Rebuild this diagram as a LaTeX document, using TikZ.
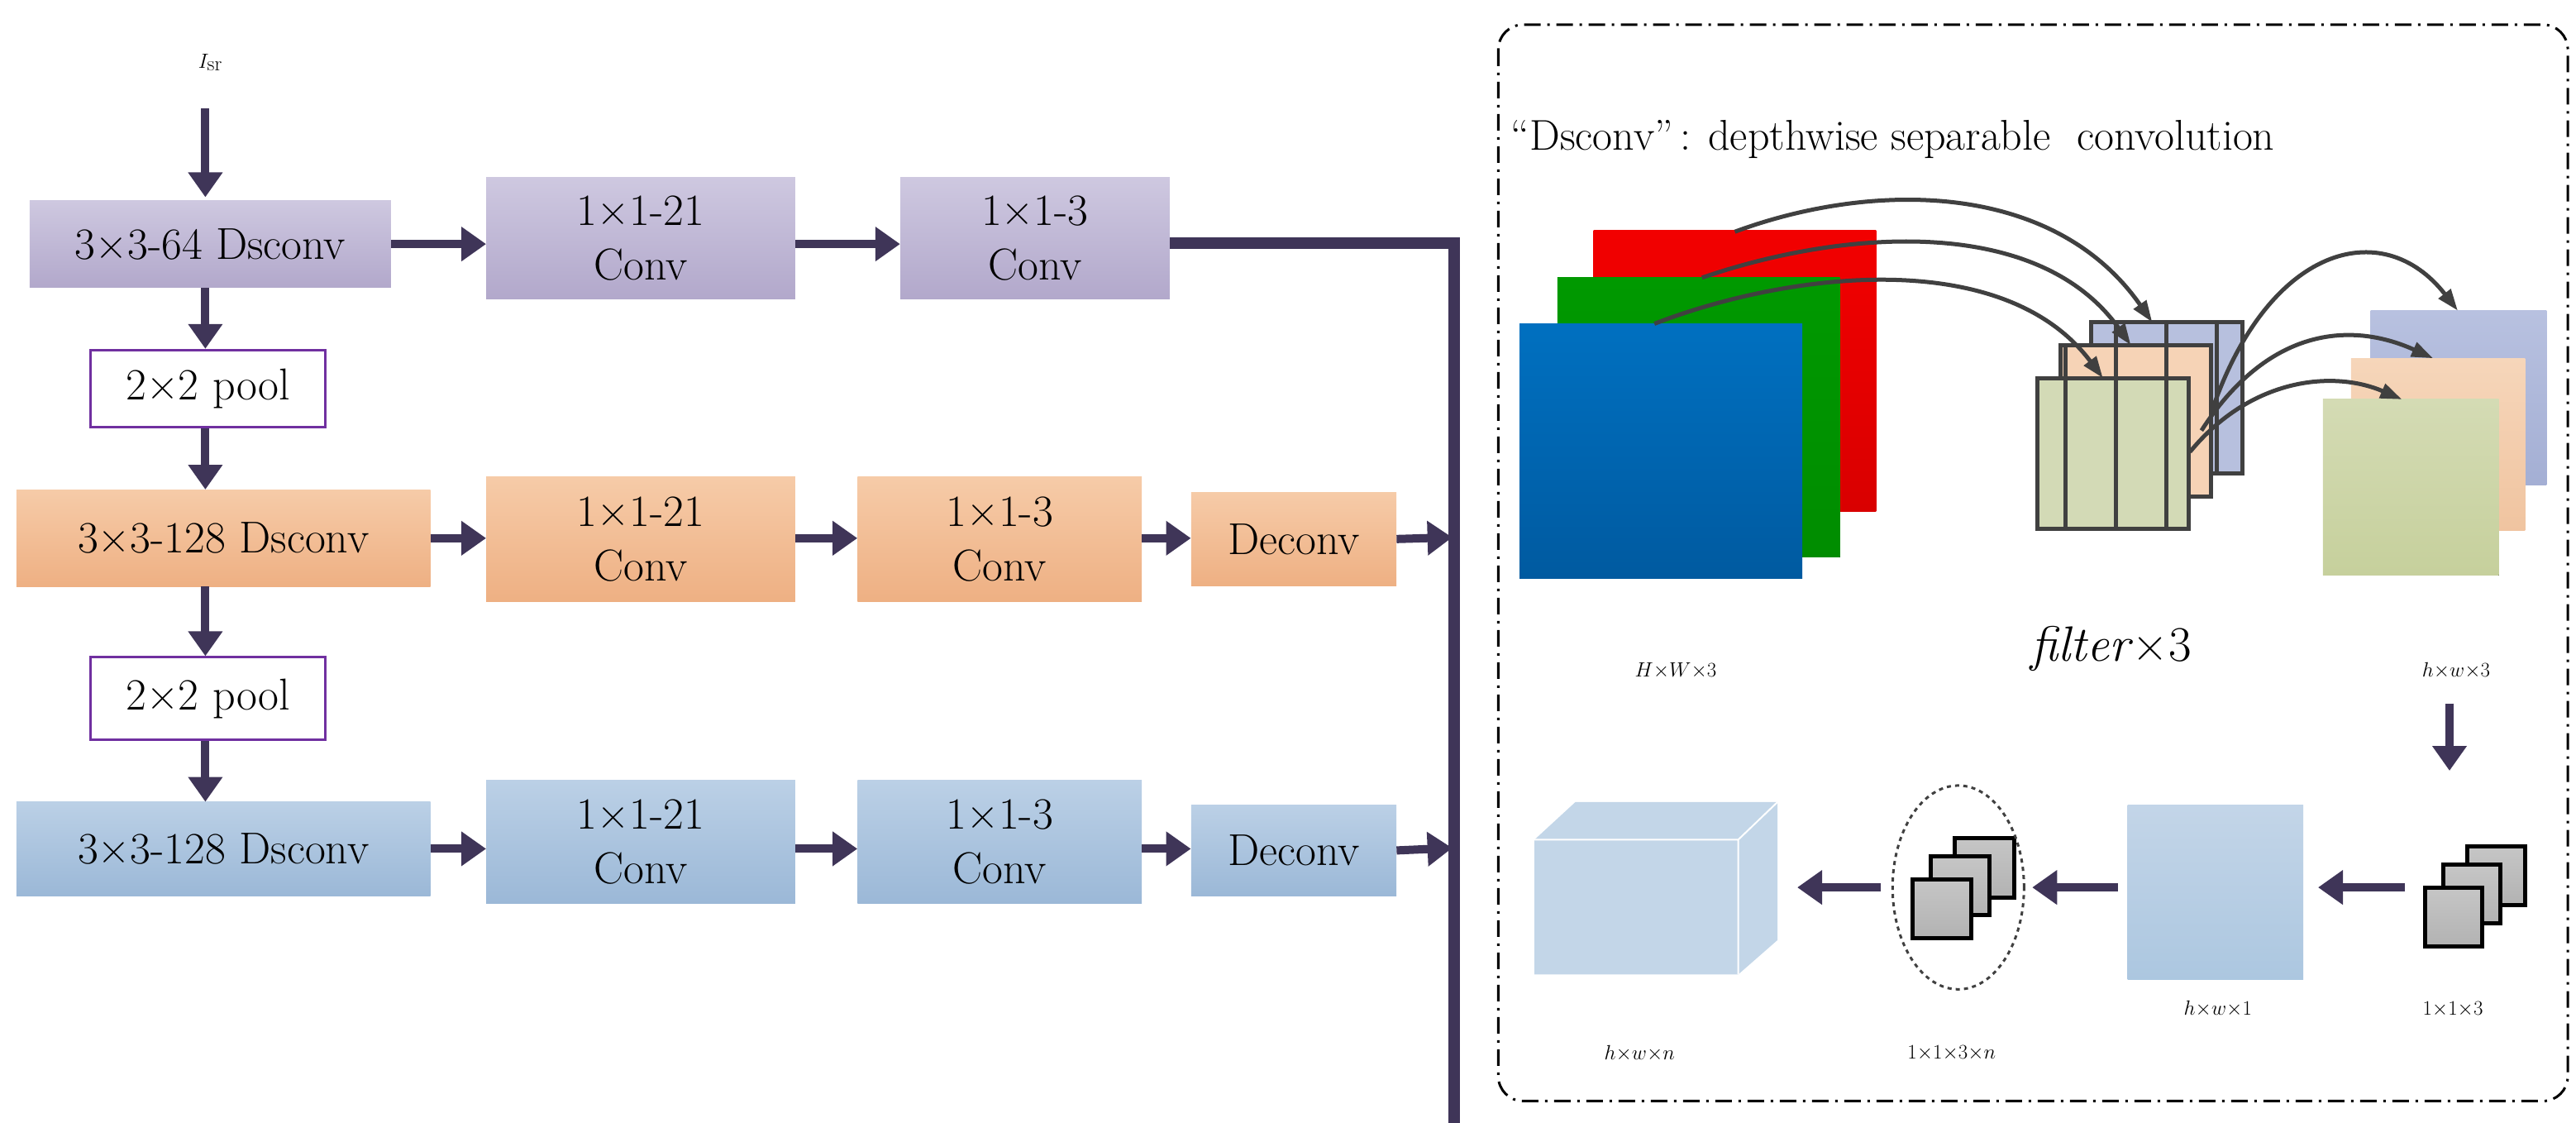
\documentclass[tikz,border=0pt]{standalone}
\usetikzlibrary{arrows.meta,shapes.geometric}
\begin{document}
\def\u{1.987pt}
\begin{tikzpicture}[x=1.987pt,y=-1.987pt,
  txt/.style={font=\fontsize{54}{66}\selectfont},
  box/.style={txt,inner sep=0pt,align=center,minimum width={#1*1.987pt}},
  pur/.style={top color=pcT,bottom color=pcB,draw=none},
  ora/.style={top color=ocT,bottom color=ocB,draw=none},
  blu/.style={top color=bcT,bottom color=bcB,draw=none},
  redb/.style={top color=rcT,bottom color=rcB,draw=none},
  pool/.style={draw=poolc,line width=3pt,fill=white},
  arr/.style={draw=arrc,line width=10pt,-{Triangle[length=30pt,width=40pt]}},
  thin/.style={draw=grayc,line width=5pt,-{Triangle[length=26pt,width=18pt]}},
  grid/.style={draw=grayc,line width=5pt},
  lab/.style={font=\fontsize{60}{70}\selectfont}]
\definecolor{pcT}{HTML}{CEC8E0}\definecolor{pcB}{HTML}{B2A8CB}
\definecolor{ocT}{HTML}{F6CBA8}\definecolor{ocB}{HTML}{EEB083}
\definecolor{bcT}{HTML}{BBD0E6}\definecolor{bcB}{HTML}{9BB8D7}
\definecolor{rcT}{HTML}{E80000}\definecolor{rcB}{HTML}{C80000}
\definecolor{poolc}{HTML}{7030A0}\definecolor{arrc}{HTML}{3F3558}
\definecolor{grayc}{HTML}{404040}
\definecolor{cubec}{HTML}{C3D6E8}
\useasboundingbox (0,0) rectangle (1568,683);
% ---- left network
\node[font=\fontsize{130}{140}\selectfont] (isr) at (128,38) {$I_{\mathrm{sr}}$};
\node[box=220,pur,minimum height={53*\u}] (b1) at (128,148.5) {3×3-64 Dsconv};
\node[box=188,pur,minimum height={74*\u}] (c11) at (390,145) {1×1-21\\Conv};
\node[box=164,pur,minimum height={74*\u}] (c12) at (630,145) {1×1-3\\Conv};
\node[box=143,pool,minimum height={47*\u}] (p1) at (126.5,236.5) {2×2 pool};
\node[box=252,ora,minimum height={59*\u}] (b2) at (136,327.5) {3×3-128 Dsconv};
\node[box=188,ora,minimum height={76*\u}] (c21) at (390,328) {1×1-21\\Conv};
\node[box=173,ora,minimum height={76*\u}] (c22) at (608.5,328) {1×1-3\\Conv};
\node[box=125,ora,minimum height={57*\u}] (d2) at (787.5,328) {Deconv};
\node[box=143,pool,minimum height={50*\u}] (p2) at (126.5,425) {2×2 pool};
\node[box=252,blu,minimum height={57*\u}] (b3) at (136,516.5) {3×3-128 Dsconv};
\node[box=188,blu,minimum height={75*\u}] (c31) at (390,512.5) {1×1-21\\Conv};
\node[box=173,blu,minimum height={75*\u}] (c32) at (608.5,512.5) {1×1-3\\Conv};
\node[box=125,blu,minimum height={55*\u}] (d3) at (787.5,517.5) {Deconv};
\node[box=137,redb,minimum height={50*\u}] (cat) at (676.5,740) {Concat};
\node[box=170,redb,minimum height={50*\u}] (cv) at (470,740) {1×1Conv};
\node[box=175,redb,minimum height={50*\u}] (sig) at (237.5,740) {Sigmoid};
\node[font=\fontsize{110}{120}\selectfont] (iedge) at (82,732) {$I_{\mathrm{edge}}$};
\coordinate (top1) at (125,66);
\coordinate (j1) at (885,148);
\coordinate (j4) at (885,740);
\coordinate (j2) at (884,327);
\coordinate (j3) at (884,516);
\draw[arr] (top1) -- (125,120);
\draw[arr] (125,175) -- (p1.north -| 125,0);
\draw[arr] (p1.south -| 125,0) -- (b2.north -| 125,0);
\draw[arr] (125,357) -- (p2.north -| 125,0);
\draw[arr] (p2.south -| 125,0) -- (b3.north -| 125,0);
\draw[arr] (b1.east) -- (b1.east -| c11.west);
\draw[arr] (c11.east |- b1.east) -- (c12.west |- b1.east);
\draw[arr] (b2.east) -- (b2.east -| c21.west);
\draw[arr] (c21.east |- b2.east) -- (c22.west |- b2.east);
\draw[arr] (c22.east |- b2.east) -- (d2.west |- b2.east);
\draw[arr] (d2.east) -- (j2);
\draw[arr] (b3.east) -- (b3.east -| c31.west);
\draw[arr] (c31.east |- b3.east) -- (c32.west |- b3.east);
\draw[arr] (c32.east |- b3.east) -- (d3.west |- b3.east);
\draw[arr] (d3.east) -- (j3);
\draw[draw=arrc,line width=14pt] (c12.east |- j1) -- (j1) -- (j4) -- (cat.east);
\draw[arr] (j4) -- (cat.east);
\draw[arr] (cat.west) -- (cv.east);
\draw[arr] (cv.west) -- (sig.east);
% ---- right panel
\draw[black,line width=3pt,dash pattern=on 20pt off 8pt on 3pt off 8pt,rounded corners=30pt] (912,15) rectangle (1563,670);
\begin{scope}
\clip (912,15) rectangle (1563,670);
\node[anchor=west,font=\fontsize{52}{60}\selectfont] (title) at (918,85) {“Dsconv”\,: depthwise separable\ \ convolution};
\end{scope}
\fill[top color=red!95!black,bottom color=red!85!black] (970,140) rectangle (1142,311);
\fill[top color=green!60!black!100,bottom color=green!55!black] (948,169) rectangle (1120,339);
\fill[top color={rgb,255:red,0;green,112;blue,192},bottom color={rgb,255:red,0;green,90;blue,160}] (925,197) rectangle (1097,352);
% filters
\foreach \x/\y/\c in {1273/196/B7C0DE,1254/210/F6D3B6,1240/230/D3DAB6}{
  \definecolor{tmp}{HTML}{\c}
  \fill[tmp] (\x,\y) rectangle ++(92,92);
  \draw[grid] (\x,\y) grid[xstep=30.67,ystep=30.67] ++(92,92);
  \draw[grid] (\x,\y) rectangle ++(92,92);
}
% feature maps
\fill[top color={rgb,255:red,184;green,193;blue,224},bottom color={rgb,255:red,164;green,175;blue,212}] (1443,189) rectangle (1550,295);
\fill[top color={rgb,255:red,246;green,214;blue,186},bottom color={rgb,255:red,240;green,196;blue,160}] (1431,218) rectangle (1537,323);
\fill[top color={rgb,255:red,212;green,219;blue,180},bottom color={rgb,255:red,198;green,208;blue,156}] (1414,243) rectangle (1521,350);
% curved arrows
\coordinate (s1) at (1056,141); \coordinate (t1) at (1310,196);
\coordinate (s2) at (1036,169); \coordinate (t2) at (1297,210);
\coordinate (s3) at (1007,197); \coordinate (t3) at (1280,230);
\draw[thin] (s1) .. controls (1140,110) and (1250,110) .. (t1);
\draw[thin] (s2) .. controls (1120,140) and (1240,130) .. (t2);
\draw[thin] (s3) .. controls (1090,165) and (1220,150) .. (t3);
\coordinate (u1) at (1346,251); \coordinate (v1) at (1496,189);
\coordinate (u2) at (1340,262); \coordinate (v2) at (1481,218);
\coordinate (u3) at (1333,275); \coordinate (v3) at (1462,243);
\draw[thin] (u1) .. controls (1380,150) and (1450,130) .. (v1);
\draw[thin] (u2) .. controls (1380,200) and (1430,195) .. (v2);
\draw[thin] (u3) .. controls (1370,230) and (1420,225) .. (v3);
\node[lab] (lHW) at (1020,408) {$H{\times}W{\times}3$};
\node[lab] (lf) at (1285,395) {\textit{filter}×3};
\node[lab] (lhw3) at (1495,408) {$h{\times}w{\times}3$};
% bottom row
\coordinate (dd1) at (1491,428); \coordinate (dd2) at (1491,469);
\draw[arr] (dd1) -- (dd2);
\foreach \x/\y in {1502/515,1487/526,1476/540}{
  \draw[black,line width=5pt,top color=gray!45,bottom color=gray!60] (\x,\y) rectangle ++(35,36);}
\foreach \x/\y in {1190/510,1175/521,1164/535}{
  \draw[black,line width=5pt,top color=gray!45,bottom color=gray!60] (\x,\y) rectangle ++(36,36);}
\node[draw=grayc,line width=3pt,dash pattern=on 5pt off 5pt,ellipse,minimum width={80*\u},minimum height={124*\u}] (ell) at (1192,540) {};
\fill[top color={rgb,255:red,195;green,213;blue,232},bottom color={rgb,255:red,172;green,199;blue,224}] (1295,490) rectangle (1402,596);
\fill[cubec] (934,511) -- (959,488) -- (1082,488) -- (1082,572) -- (1058,593) -- (934,593) -- cycle;
\draw[white,line width=2pt] (934,511) -- (1058,511) -- (1082,488) (1058,511) -- (1058,593);
\draw[arr] (1464,540) -- (1411,540);
\draw[arr] (1289,540) -- (1237,540);
\draw[arr] (1145,540) -- (1094,540);
\node[lab] (lhw1) at (1350,614) {$h{\times}w{\times}1$};
\node[lab] (l113) at (1493,614) {$1{\times}1{\times}3$};
\node[lab] (lhwn) at (998,641) {$h{\times}w{\times}n$};
\node[lab] (l113n) at (1188,641) {$1{\times}1{\times}3{\times}n$};
\end{tikzpicture}
\end{document}
